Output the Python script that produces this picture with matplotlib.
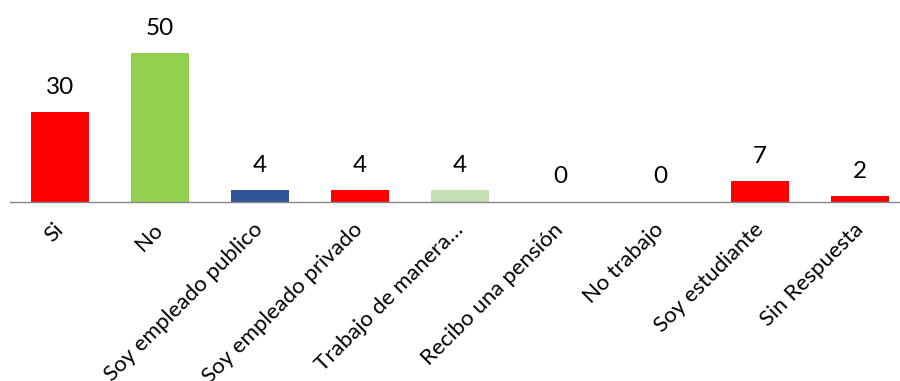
import matplotlib
matplotlib.use("Agg")
import matplotlib.pyplot as plt

# Responses per category
categories = ["Si", "No", "Soy empleado publico", "Soy empleado privado",
              "Trabajo de manera…", "Recibo una pensión", "No trabajo",
              "Soy estudiante", "Sin Respuesta"]
counts = [30, 50, 4, 4, 4, 0, 0, 7, 2]
bar_colors = ["#FF0000", "#92D050", "#2F5597", "#FF0000", "#C5E0B4",
              "#FF0000", "#FF0000", "#FF0000", "#FF0000"]

plt.rcParams["font.family"] = ["Lato", "DejaVu Sans"]

W, H = 900, 381
fig = plt.figure(figsize=(W / 100, H / 100), dpi=100)
# axes: x from 10px to 910px (last category slot runs past the edge), baseline at y=201.5px
base_px = 201.5
ax = fig.add_axes([10 / W, (H - base_px) / H, 900 / W, base_px / H])

xs = list(range(len(categories)))
ax.bar(xs, counts, width=0.58, color=bar_colors, zorder=2)

ax.set_xlim(-0.5, len(categories) - 0.5)
ax.set_ylim(0, base_px / (148.5 / 50))

for x, v in zip(xs, counts):
    ax.annotate(str(v), xy=(x, v), xytext=(0, 13), textcoords="offset points",
                ha="center", va="baseline", fontsize=17.5, color="#000000",
                annotation_clip=False)

ax.set_xticks(xs)
ax.set_xticklabels(categories, rotation=45, ha="right", va="center",
                   rotation_mode="anchor", fontsize=16, color="#000000")
ax.tick_params(axis="x", length=0, pad=18)
ax.set_yticks([])

for side in ("top", "right", "left"):
    ax.spines[side].set_visible(False)
ax.spines["bottom"].set_color("#868686")
ax.spines["bottom"].set_linewidth(1.0)
ax.patch.set_visible(False)

fig.savefig("out.png", dpi=100)
